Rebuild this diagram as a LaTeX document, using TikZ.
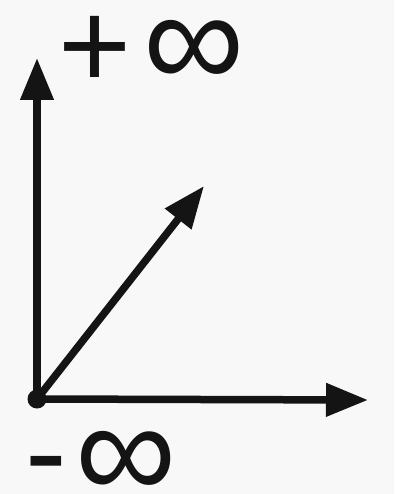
\documentclass[tikz,border=0pt]{standalone}
\usepackage{fontspec}
\setmainfont{Liberation Sans}
\definecolor{paper}{RGB}{248,248,248}
\definecolor{ink}{RGB}{20,20,20}
\usetikzlibrary{arrows.meta,positioning}

\begin{document}
\begin{tikzpicture}[x=1pt,y=-1pt]
  \tikzstyle{axis}=[draw=ink,line width=7.5pt,-{Triangle[length=42pt,width=32pt]}]
  \tikzstyle{sign}=[inner sep=0pt,text=ink,font=\fontsize{125}{125}\selectfont]
  \tikzstyle{infty}=[inner sep=0pt,text=ink,font=\fontsize{142}{142}\selectfont]

  \fill[paper] (0,0) rectangle (394,494);
  \useasboundingbox (0,0) rectangle (394,494);

  \coordinate (origin) at (37,399);
  \coordinate (top) at (37,58);
  \coordinate (right) at (368,400);
  \coordinate (diag) at (204,186);

  \draw[axis] (origin) -- (top);
  \draw[axis] (origin) -- (right);
  \draw[axis] (origin) -- (diag);
  \fill[ink] (origin) circle (9.5pt);

  % labels
  \node[sign] (plus) at (95,52) {+};
  \node[infty] (pinf) at (194,54) {∞};
  \node[sign] (minus) at (46,475) {-};
  \node[infty] (minf) at (126,465) {∞};
\end{tikzpicture}
\end{document}
